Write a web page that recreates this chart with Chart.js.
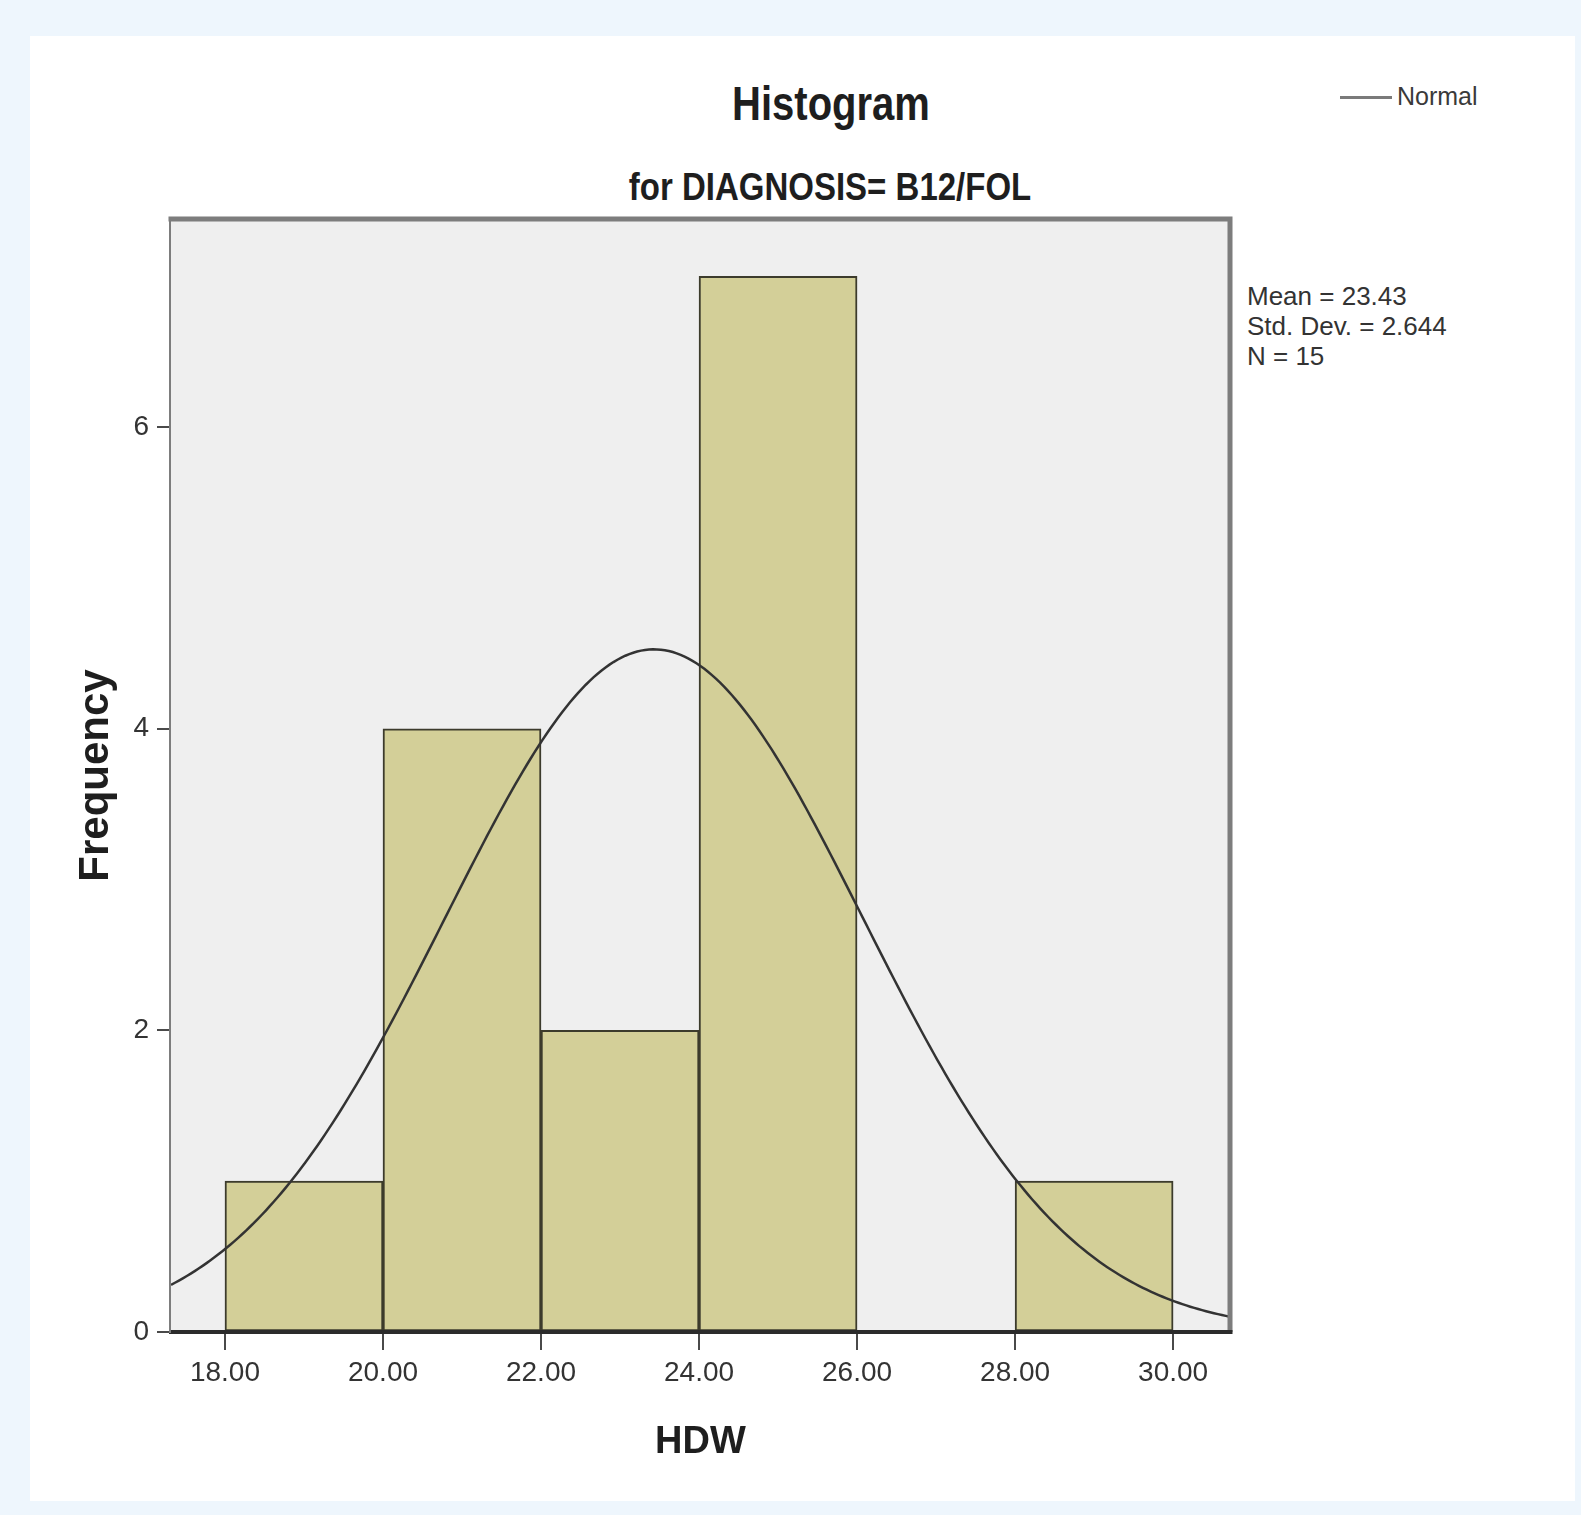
<!DOCTYPE html>
<html>
<head>
<meta charset="utf-8">
<script src="https://cdn.jsdelivr.net/npm/chart.js@4.4.1/dist/chart.umd.min.js"></script>
<style>
  html, body { margin: 0; padding: 0; background: #eef6fd; }
  body { width: 1581px; height: 1515px; position: relative; overflow: hidden;
         font-family: "Liberation Sans", Arial, sans-serif; }
  #panel { position: absolute; left: 30px; top: 36px; width: 1545px; height: 1465px; background: #ffffff; }
  #wrap { position: absolute; left: 0; top: 0; width: 1581px; height: 1515px; }
  .t { position: absolute; white-space: nowrap; line-height: 1; color: #1e1e1e; }
  #title { left: 831px; top: 83px; font-size: 40px; font-weight: bold; transform: translateX(-50%) scaleY(1.2); }
  #subtitle { left: 830px; top: 170px; font-size: 33px; font-weight: bold; transform: translateX(-50%) scaleY(1.2); }
  #legend { left: 1340px; top: 84px; font-size: 25px; color: #3a3a3a; }
  #legend .swatch { display: inline-block; width: 52px; height: 3px; background: #7a7a7a; vertical-align: middle; margin-right: 5px; position: relative; top: -1px; }
  #stats { left: 1247px; top: 281px; font-size: 26px; line-height: 30px; color: #333; }
</style>
</head>
<body>
<div id="panel"></div>
<div class="t" id="title">Histogram</div>
<div class="t" id="subtitle">for DIAGNOSIS= B12/FOL</div>
<div class="t" id="legend"><span class="swatch"></span>Normal</div>
<div class="t" id="stats"></div>
<div id="wrap"><canvas id="chart" width="1581" height="1515"></canvas></div>
<script>
// HDW histogram, DIAGNOSIS = B12/FOL
const BIN_CENTERS = [19, 21, 23, 25, 27, 29];     // bins of width 2 from 18 to 30
const FREQUENCIES = [1, 4, 2, 7, 0, 1];
const X_TICKS = [18, 20, 22, 24, 26, 28, 30];
const Y_TICKS = [0, 2, 4, 6];
const MEAN = 23.43;
const STD_DEV = 2.644;
const N = 15;
const BIN_WIDTH = 2;
const X_RANGE = [17.317, 30.72];
const Y_RANGE = [0, 7.38];

document.getElementById('stats').innerHTML =
  'Mean = ' + MEAN.toFixed(2) + '<br>Std. Dev. = ' + STD_DEV.toFixed(3) + '<br>N = ' + N;

// fitted normal curve scaled to counts per bin
const normalCurve = [];
for (let x = X_RANGE[0]; x <= X_RANGE[1] + 1e-9; x += 0.05) {
  const z = (x - MEAN) / STD_DEV;
  const y = N * BIN_WIDTH * Math.exp(-0.5 * z * z) / (STD_DEV * Math.sqrt(2 * Math.PI));
  normalCurve.push({ x: x, y: y });
}

const bars = BIN_CENTERS.map((c, i) => ({ x: c, y: FREQUENCIES[i] }));

const plotFrame = {
  id: 'plotFrame',
  beforeDatasetsDraw(chart) {
    const { ctx, chartArea: a } = chart;
    ctx.save();
    ctx.fillStyle = '#efefef';
    ctx.fillRect(a.left, a.top, a.right - a.left, a.bottom - a.top);
    ctx.restore();
  },
  afterDraw(chart) {
    const { ctx, chartArea: a } = chart;
    ctx.save();
    ctx.strokeStyle = '#7d7d7d';
    ctx.lineWidth = 5;
    ctx.beginPath();
    ctx.moveTo(a.left - 2.5, a.top);
    ctx.lineTo(a.right, a.top);
    ctx.lineTo(a.right, a.bottom);
    ctx.stroke();
    ctx.strokeStyle = '#2b2b2b';
    ctx.lineWidth = 4;
    ctx.beginPath();
    ctx.moveTo(a.left, a.bottom);
    ctx.lineTo(a.right + 2.5, a.bottom);
    ctx.stroke();
    ctx.restore();
  }
};

new Chart(document.getElementById('chart'), {
  type: 'bar',
  data: {
    datasets: [
      {
        type: 'line',
        label: 'Normal',
        data: normalCurve,
        borderColor: '#333333',
        borderWidth: 2.5,
        pointRadius: 0,
        tension: 0,
        order: 0
      },
      {
        type: 'bar',
        label: 'Frequency',
        data: bars,
        backgroundColor: '#d3cf98',
        borderColor: '#3c3b2c',
        borderWidth: 2,
        borderSkipped: false,
        barPercentage: 1,
        categoryPercentage: 1,
        order: 1
      }
    ]
  },
  options: {
    responsive: false,
    devicePixelRatio: 1,
    animation: false,
    layout: { padding: { left: 0, top: 219, right: 351, bottom: 0 } },
    plugins: { legend: { display: false }, tooltip: { enabled: false } },
    scales: {
      x: {
        type: 'linear',
        position: 'bottom',
        offset: false,
        min: X_RANGE[0],
        max: X_RANGE[1],
        afterBuildTicks: s => { s.ticks = X_TICKS.map(v => ({ value: v })); },
        afterFit: s => { s.height = 1515 - 1332; },
        grid: { offset: false, drawOnChartArea: false, drawTicks: true, tickLength: 18, color: '#4a4a4a', lineWidth: 2 },
        border: { display: true, color: '#2b2b2b', width: 4 },
        ticks: {
          callback: v => Number(v).toFixed(2),
          font: { family: '"Liberation Sans", Arial, sans-serif', size: 28 },
          color: '#333333',
          padding: 6,
          maxRotation: 0,
          autoSkip: false
        },
        title: {
          display: true,
          text: 'HDW',
          font: { family: '"Liberation Sans", Arial, sans-serif', size: 38, weight: 'bold' },
          color: '#1e1e1e',
          padding: { top: 0, bottom: 50 }
        }
      },
      y: {
        type: 'linear',
        position: 'left',
        min: Y_RANGE[0],
        max: Y_RANGE[1],
        afterBuildTicks: s => { s.ticks = Y_TICKS.map(v => ({ value: v })); },
        afterFit: s => { s.width = 171; },
        grid: { drawOnChartArea: false, drawTicks: true, tickLength: 14, color: '#4a4a4a', lineWidth: 2 },
        border: { display: true, color: '#7d7d7d', width: 5 },
        ticks: {
          font: { family: '"Liberation Sans", Arial, sans-serif', size: 28 },
          color: '#333333',
          padding: 8
        },
        title: {
          display: true,
          text: 'Frequency',
          font: { family: '"Liberation Sans", Arial, sans-serif', size: 42, weight: 'bold' },
          color: '#1e1e1e',
          padding: { top: 71, bottom: 0 }
        }
      }
    }
  },
  plugins: [plotFrame]
});
</script>
</body>
</html>
